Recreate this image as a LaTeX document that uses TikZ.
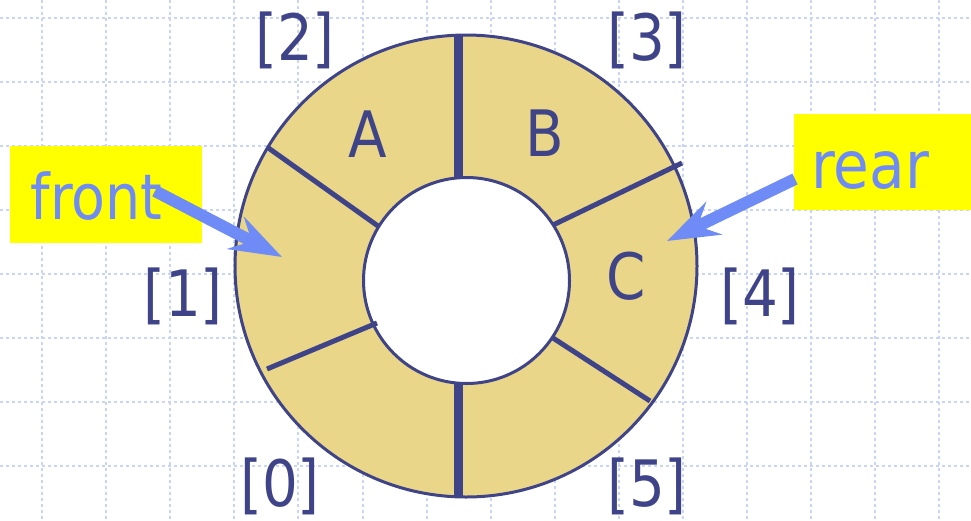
\documentclass[tikz,border=0pt]{standalone}
\usepackage{fontspec}
\setmainfont{DejaVu Sans}[FakeStretch=0.88]
\usetikzlibrary{arrows.meta}
\definecolor{navy}{HTML}{3F4489}
\definecolor{ringtan}{HTML}{EAD688}
\definecolor{gridblue}{HTML}{C9D5F7}
\definecolor{arrowblue}{HTML}{6F8CF6}
\definecolor{boxyellow}{HTML}{FFFF00}
\begin{document}
\begin{tikzpicture}[x=1pt,y=-1pt,
  gridline/.style={gridblue, line width=2pt, dash pattern=on 3pt off 3pt},
  idx/.style={text=navy, font=\fontsize{64}{64}\selectfont, inner sep=0pt},
  divthick/.style={navy, line width=9pt},
  divthin/.style={navy, line width=5pt},
  ptrbox/.style={fill=boxyellow, draw=none},
  ptrtext/.style={text=arrowblue, inner sep=0pt, anchor=base},
  ptrarrow/.style={arrowblue, line width=12pt, -{Stealth[length=52pt, width=36pt, inset=18pt]}}
]
\useasboundingbox (0,0) rectangle (971,520);
\fill[white] (0,0) rectangle (971,520);
% grid
\foreach \i in {0,...,14} \draw[gridline] ({42+64.1*\i},0) -- ({42+64.1*\i},520);
\foreach \j in {0,...,7} \draw[gridline] (0,{18+64*\j}) -- (971,{18+64*\j});
% ring
\coordinate (oc) at (466,266);
\coordinate (ic) at (466.5,280.5);
\fill[ringtan] (oc) circle[radius=231pt];
\draw[navy, line width=3pt] (oc) circle[radius=231pt];
\draw[navy, line width=3pt, fill=white] (ic) circle[radius=103pt];
% dividers
\coordinate (d1a) at (458,35);  \coordinate (d1b) at (458,178);
\coordinate (d2a) at (458,383); \coordinate (d2b) at (458,497);
\coordinate (d3a) at (267,147); \coordinate (d3b) at (378,226);
\coordinate (d4a) at (267,369); \coordinate (d4b) at (377,323);
\coordinate (d5a) at (682,163); \coordinate (d5b) at (553,225);
\coordinate (d6a) at (553,338); \coordinate (d6b) at (650,401);
\draw[divthick] (d1a) -- (d1b);
\draw[divthick] (d2a) -- (d2b);
\draw[divthin] (d3a) -- (d3b);
\draw[divthin] (d4a) -- (d4b);
\draw[divthin] (d5a) -- (d5b);
\draw[divthin] (d6a) -- (d6b);
% index labels
\node[idx] (i0) at (280,486) {[0]};
\node[idx] (i1) at (183,296) {[1]};
\node[idx] (i2) at (295,40) {[2]};
\node[idx] (i3) at (647,40) {[3]};
\node[idx] (i4) at (760,296) {[4]};
\node[idx] (i5) at (647,486) {[5]};
% contents
\node[idx] (ea) at (368,134) {A};
\node[idx] (eb) at (545,133) {B};
\node[idx] (ec) at (626,276) {C};
% pointer boxes
\fill[ptrbox] (10,146) rectangle (202,243);
\fill[ptrbox] (794,114) rectangle (971,210);
\node[ptrtext, font=\fontsize{63}{63}\selectfont] (front) at (96.5,219) {front};
\node[ptrtext, font=\fontsize{66}{66}\selectfont] (rear) at (870,188) {rear};
% arrows
\coordinate (fs) at (155,191);
\coordinate (ft) at (282,257);
\coordinate (rs) at (795,179);
\coordinate (rt) at (667,241);
\draw[ptrarrow] (fs) -- (ft);
\draw[ptrarrow] (rs) -- (rt);
\end{tikzpicture}
\end{document}
